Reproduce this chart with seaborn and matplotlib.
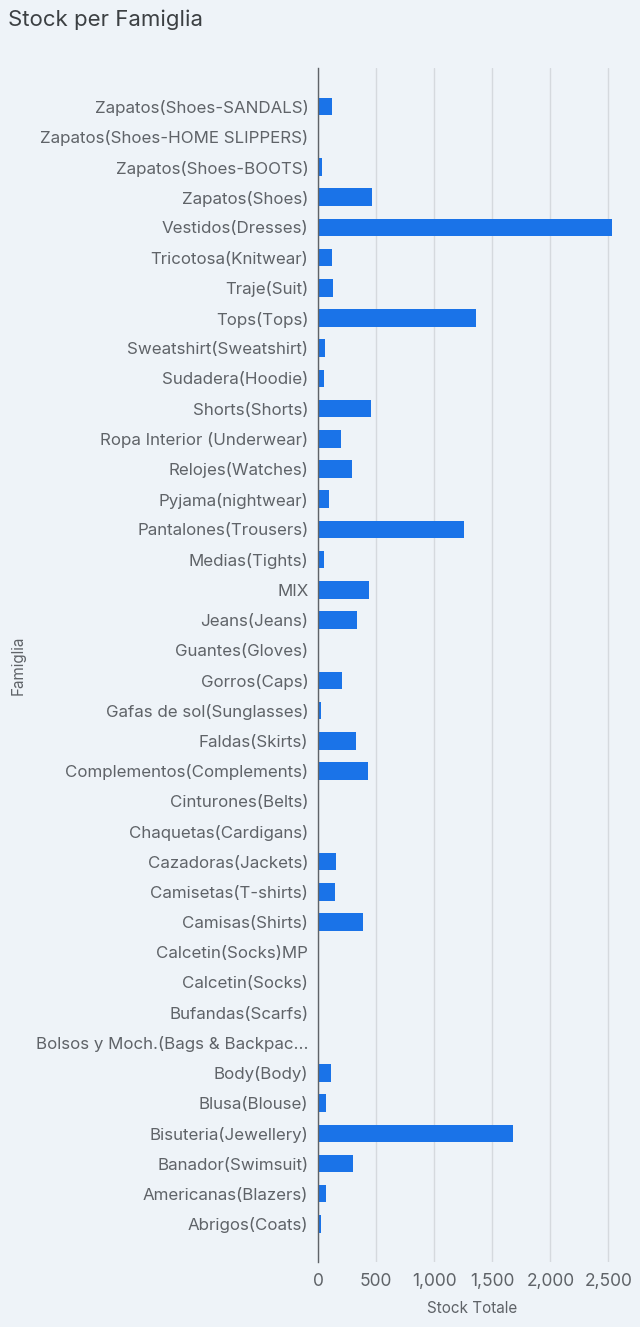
import matplotlib
matplotlib.use("Agg")
import matplotlib.pyplot as plt
import matplotlib.ticker as mticker
import seaborn as sns
import pandas as pd

# categories top to bottom, as shown in the chart
famiglie = [
    "Zapatos(Shoes-SANDALS)", "Zapatos(Shoes-HOME SLIPPERS)", "Zapatos(Shoes-BOOTS)",
    "Zapatos(Shoes)", "Vestidos(Dresses)", "Tricotosa(Knitwear)", "Traje(Suit)",
    "Tops(Tops)", "Sweatshirt(Sweatshirt)", "Sudadera(Hoodie)", "Shorts(Shorts)",
    "Ropa Interior (Underwear)", "Relojes(Watches)", "Pyjama(nightwear)",
    "Pantalones(Trousers)", "Medias(Tights)", "MIX", "Jeans(Jeans)", "Guantes(Gloves)",
    "Gorros(Caps)", "Gafas de sol(Sunglasses)", "Faldas(Skirts)",
    "Complementos(Complements)", "Cinturones(Belts)", "Chaquetas(Cardigans)",
    "Cazadoras(Jackets)", "Camisetas(T-shirts)", "Camisas(Shirts)",
    "Calcetin(Socks)MP", "Calcetin(Socks)", "Bufandas(Scarfs)",
    "Bolsos y Moch.(Bags & Backpac...", "Body(Body)", "Blusa(Blouse)",
    "Bisuteria(Jewellery)", "Banador(Swimsuit)", "Americanas(Blazers)", "Abrigos(Coats)",
]
stock = [
    120, 2, 37, 464, 2531, 120, 132, 1356, 63, 52, 456,
    195, 295, 97, 1255, 54, 441, 338, 2,
    204, 28, 324, 433, 5, 3, 152, 148, 390,
    0, 1, 2, 8, 109, 69, 1677, 304, 69, 23,
]
x_ticks = [0, 500, 1000, 1500, 2000, 2500]

BG = "#eef3f8"
BLUE = "#1a73e8"
TEXT = "#5f6368"

df = pd.DataFrame({"Famiglia": famiglie, "Stock Totale": stock})

sns.set_theme(style="white")
plt.rcParams["font.family"] = ["Inter", "Roboto", "DejaVu Sans"]

fig = plt.figure(figsize=(6.4, 13.27), dpi=100, facecolor=BG)
ax = fig.add_axes([0.497, 0.049, 0.481, 0.9])
ax.set_facecolor(BG)

sns.barplot(data=df, x="Stock Totale", y="Famiglia", orient="h", color=BLUE,
            saturation=1, width=0.58, linewidth=0, ax=ax, zorder=3)

ax.set_xlim(0, 2650)
ax.set_ylim(len(famiglie) - 1 + 1.26, -1.29)
ax.set_xticks(x_ticks)
ax.xaxis.set_major_formatter(mticker.FuncFormatter(lambda v, p: f"{int(v):,}"))
ax.grid(axis="x", color="#d5d9de", linewidth=1, zorder=0)

for s in ["top", "right", "bottom"]:
    ax.spines[s].set_visible(False)
ax.spines["left"].set_color("#5f6368")
ax.spines["left"].set_linewidth(1)
ax.spines["left"].set_zorder(4)

ax.tick_params(axis="y", length=0, pad=7, labelsize=12.2, labelcolor=TEXT)
ax.tick_params(axis="x", length=0, pad=8, labelsize=12.5, labelcolor=TEXT)

ax.set_xlabel("Stock Totale", fontsize=11, color=TEXT, labelpad=8)
ax.set_ylabel("Famiglia", fontsize=11, color=TEXT)
ax.yaxis.set_label_coords(-0.95, 0.5)

fig.text(0.013, 0.993, "Stock per Famiglia", fontsize=16, color="#3c4043",
         ha="left", va="top")

fig.savefig("out.png", dpi=100, facecolor=BG)
